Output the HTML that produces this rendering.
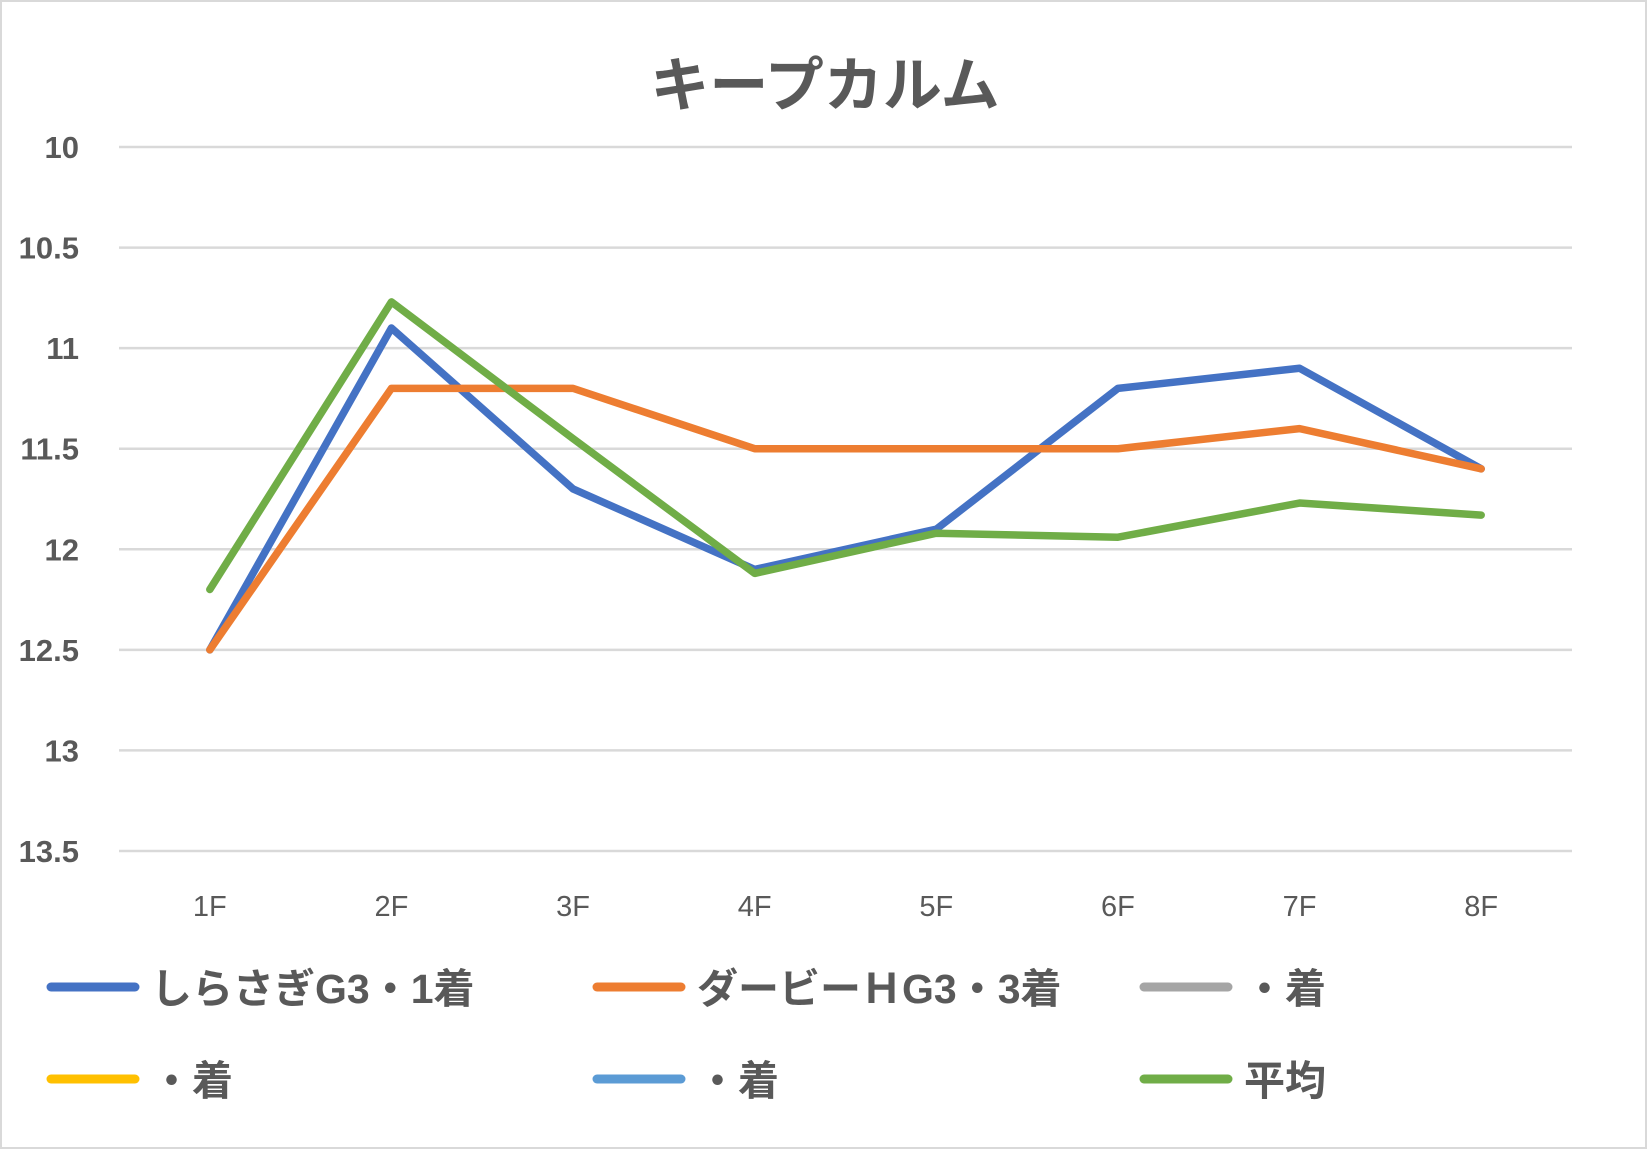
<!DOCTYPE html>
<html><head><meta charset="utf-8"><style>
body{margin:0;background:#fff}
svg{display:block}
text{font-family:"Liberation Sans","Noto Sans CJK JP",sans-serif;fill:#595959}
</style></head><body>
<svg id="chart" width="1647" height="1149" xmlns="http://www.w3.org/2000/svg">
<rect x="1" y="1" width="1645" height="1147" fill="#fff" stroke="#d9d9d9" stroke-width="2"/>
<text x="825" y="106" text-anchor="middle" font-size="59" font-weight="bold">キープカルム</text>
<g id="grid"></g><g id="ylab"></g><g id="xlab"></g><g id="series"></g><g id="legend"></g>
</svg>
<script>
const categories=["1F","2F","3F","4F","5F","6F","7F","8F"];
const yTicks=[10,10.5,11,11.5,12,12.5,13,13.5];
const yTickLabels=["10","10.5","11","11.5","12","12.5","13","13.5"];
const shirasagi=[12.5,10.9,11.7,12.1,11.9,11.2,11.1,11.6];
const derby=[12.5,11.2,11.2,11.5,11.5,11.5,11.4,11.6];
const average=[12.2,10.77,11.45,12.12,11.92,11.94,11.77,11.83];
const seriesNames=["しらさぎG3・1着","ダービーＨG3・3着","・着","・着","・着","平均"];
const NS="http://www.w3.org/2000/svg";
const X0=119,X1=1572,Y0=147,Y1=851;
function xs(i){return X0+(X1-X0)/categories.length*(i+0.5);}
function ys(v){return Y0+(v-10)/(13.5-10)*(Y1-Y0);}
function mk(tag,attrs,parent){const e=document.createElementNS(NS,tag);for(const k in attrs)e.setAttribute(k,attrs[k]);parent.appendChild(e);return e;}
const grid=document.getElementById('grid'),ylab=document.getElementById('ylab'),xlab=document.getElementById('xlab');
yTicks.forEach((t,i)=>{
 const l=mk('line',{x1:X0,x2:X1,y1:ys(t),y2:ys(t),stroke:'#d9d9d9','stroke-width':2.5},grid);
 
 
 const tx=mk('text',{x:79,y:ys(t)+11,'text-anchor':'end','font-size':31,'font-weight':'bold'},ylab);
 tx.textContent=yTickLabels[i];
 
 
});
categories.forEach((c,i)=>{
 const tx=mk('text',{x:xs(i),y:916,'text-anchor':'middle','font-size':29},xlab);
 tx.textContent=c;
 
 
});
const ser=document.getElementById('series');
[[shirasagi,'#4472c4','series-shirasagi'],[derby,'#ed7d31','series-derby'],[average,'#70ad47','series-average']].forEach(s=>{
 const p=mk('polyline',{points:s[0].map((v,i)=>xs(i)+','+ys(v)).join(' '),fill:'none',stroke:s[1],'stroke-width':7.5,'stroke-linejoin':'round','stroke-linecap':'round'},ser);
 
 
});
const leg=document.getElementById('legend');
const legPos=[[47,987,'#4472c4'],[593,987,'#ed7d31'],[1140,987,'#a5a5a5'],[47,1079,'#ffc000'],[593,1079,'#5b9bd5'],[1140,1079,'#70ad47']];
legPos.forEach((p,i)=>{
 const g=mk('g',{},leg);
 
 
 mk('line',{x1:p[0]+4,x2:p[0]+88,y1:p[1],y2:p[1],stroke:p[2],'stroke-width':9,'stroke-linecap':'round'},g);
 const t=mk('text',{x:p[0]+104,y:p[1]+16,'font-size':41,'font-weight':'bold'},g);
 t.textContent=seriesNames[i];
});
</script>
</body></html>
